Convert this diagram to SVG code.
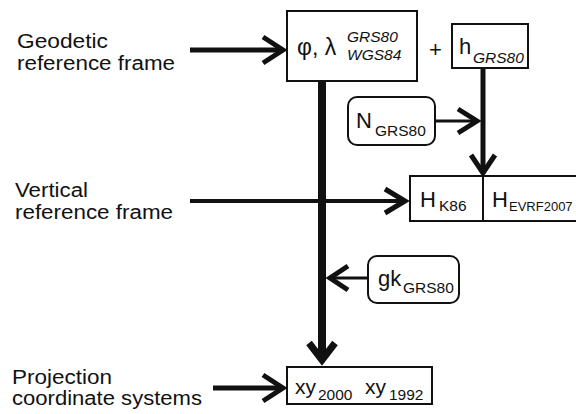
<svg xmlns="http://www.w3.org/2000/svg" width="576" height="414" viewBox="0 0 576 414">
<style>
text{font-family:"Liberation Sans",Arial,sans-serif;fill:#111}
.lbl{font-size:20px}
.big{font-size:22px}
.sub{font-size:15.5px}
.it{font-style:italic}
.box{fill:#fff;stroke:#111;stroke-width:2}
.ln{stroke:#111;fill:none}
.head{stroke:#111;fill:none;stroke-linejoin:miter;stroke-miterlimit:10}
</style>
<g id="connectors">
  <line class="ln" x1="190" y1="50" x2="283" y2="50" stroke-width="5"/>
  <polyline class="head" points="263,37 283,50 263,63" stroke-width="5"/>
  <line class="ln" x1="322" y1="81" x2="322" y2="360" stroke-width="8"/>
  <polyline class="head" points="309,343 322,360 335,343" stroke-width="7"/>
  <line class="ln" x1="190" y1="201" x2="405" y2="201" stroke-width="4"/>
  <polyline class="head" points="385,189 405,201 385,213" stroke-width="5"/>
  <line class="ln" x1="213" y1="388" x2="283" y2="388" stroke-width="5"/>
  <polyline class="head" points="263,375 283,388 263,401" stroke-width="5"/>
  <line class="ln" x1="483" y1="68" x2="483" y2="173" stroke-width="5"/>
  <polyline class="head" points="471,155 483,173 495,155" stroke-width="5"/>
  <line class="ln" x1="435" y1="121" x2="477" y2="121" stroke-width="3"/>
  <polyline class="head" points="458,109 477,121 458,133" stroke-width="5"/>
  <line class="ln" x1="368" y1="278" x2="330" y2="278" stroke-width="3"/>
  <polyline class="head" points="348,266 330,278 348,290" stroke-width="5"/>
</g>
<g id="label-geodetic">
  <text class="lbl" x="17" y="48" textLength="91" lengthAdjust="spacingAndGlyphs">Geodetic</text>
  <text class="lbl" x="17" y="70" textLength="158" lengthAdjust="spacingAndGlyphs">reference frame</text>
</g>
<g id="label-vertical">
  <text class="lbl" x="15" y="197" textLength="73" lengthAdjust="spacingAndGlyphs">Vertical</text>
  <text class="lbl" x="15" y="219" textLength="158" lengthAdjust="spacingAndGlyphs">reference frame</text>
</g>
<g id="label-projection">
  <text class="lbl" x="12" y="384" textLength="100" lengthAdjust="spacingAndGlyphs">Projection</text>
  <text class="lbl" x="12" y="405" textLength="190" lengthAdjust="spacingAndGlyphs">coordinate systems</text>
</g>
<g id="node-phi-lambda">
  <rect class="box" x="287" y="11" width="130" height="70"/>
  <text class="big" x="297" y="55" style="font-size:23px">φ, λ</text>
  <text class="sub it" x="347" y="42">GRS80</text>
  <text class="sub it" x="347" y="60">WGS84</text>
</g>
<g id="plus">
  <text class="big" x="429" y="57">+</text>
</g>
<g id="node-h">
  <rect class="box" x="452" y="24" width="76" height="44"/>
  <text class="big" x="459" y="54">h</text>
  <text class="sub it" x="473" y="63">GRS80</text>
</g>
<g id="node-N">
  <rect class="box" x="348" y="97" width="87" height="48" rx="9"/>
  <text class="big" x="356" y="128">N</text>
  <text class="sub" x="375" y="136">GRS80</text>
</g>
<g id="node-H">
  <rect class="box" x="410" y="176" width="170" height="45"/>
  <line class="ln" x1="483" y1="176" x2="483" y2="221" stroke-width="2"/>
  <text class="big" x="420" y="207">H</text>
  <text class="sub" x="439" y="211">K86</text>
  <text class="big" x="492" y="207">H</text>
  <text class="sub" x="509" y="211" style="font-size:13px">EVRF2007</text>
</g>
<g id="node-gk">
  <rect class="box" x="368" y="256" width="91" height="47" rx="9"/>
  <text class="big" x="378" y="286">gk</text>
  <text class="sub" x="403" y="293">GRS80</text>
</g>
<g id="node-xy">
  <rect class="box" x="287" y="367" width="145" height="37"/>
  <text class="big" x="295" y="394" style="font-size:21px">xy</text>
  <text class="sub" x="318" y="400">2000</text>
  <text class="big" x="365" y="394" style="font-size:21px">xy</text>
  <text class="sub" x="389" y="400">1992</text>
</g>
</svg>
